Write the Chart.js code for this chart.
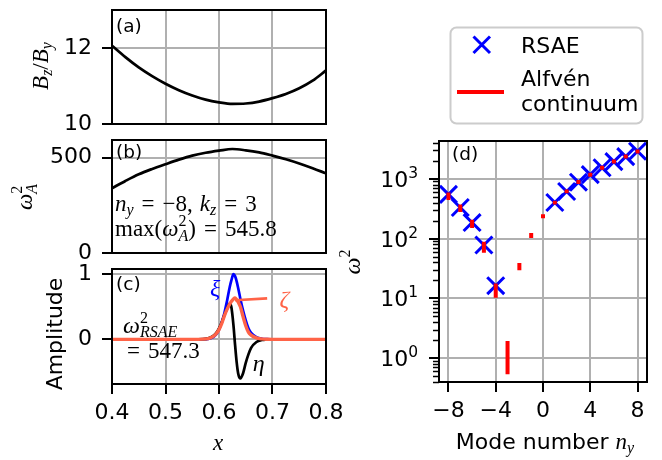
<!DOCTYPE html>
<html>
<head>
<meta charset="utf-8">
<script src="https://cdn.jsdelivr.net/npm/chart.js@4.4.1/dist/chart.umd.min.js"></script>
<style>
html, body { margin: 0; padding: 0; background: #fff; }
#wrap { position: relative; width: 662px; height: 460px; }
#wrap canvas { position: absolute; left: 0; top: 0; }
</style>
</head>
<body>
<div id="wrap">
  <canvas id="ca" width="662" height="460"></canvas>
  <canvas id="cb" width="662" height="460"></canvas>
  <canvas id="cc" width="662" height="460"></canvas>
  <canvas id="cd" width="662" height="460"></canvas>
</div>
<script>
// ---- data ----
const xTicks = [0.4, 0.5, 0.6, 0.7, 0.8];
const xTickLabels = ["0.4", "0.5", "0.6", "0.7", "0.8"];

// (a) field ratio
const xA = [0.40, 0.425, 0.45, 0.475, 0.50, 0.525, 0.55, 0.575, 0.60, 0.625, 0.65, 0.675, 0.70, 0.725, 0.75, 0.775, 0.80];
const bzBy = [12.06, 11.76, 11.49, 11.26, 11.06, 10.89, 10.75, 10.64, 10.57, 10.53, 10.54, 10.59, 10.68, 10.79, 10.94, 11.14, 11.41];
const aTicks = [10, 12];
const aTickLabels = ["10", "12"];

// (b) Alfven frequency for n_y = -8
const omegaA2 = [340, 378, 413, 441, 466, 490, 511, 526, 537, 545.8, 539, 528, 511, 492, 470, 445, 418];
const bTicks = [0, 500];
const bTickLabels = ["0", "500"];

// (c) mode structure
const xC = [0.40, 0.50, 0.55, 0.57, 0.58, 0.59, 0.595, 0.60, 0.605, 0.61, 0.615, 0.62, 0.623, 0.627, 0.63, 0.633, 0.636, 0.64, 0.645, 0.65, 0.655, 0.66, 0.67, 0.68, 0.69, 0.70, 0.75, 0.80];
const xi   = [0, 0, 0, 0.002, 0.008, 0.04, 0.08, 0.15, 0.26, 0.40, 0.59, 0.80, 0.90, 1.00, 0.97, 0.89, 0.78, 0.62, 0.44, 0.29, 0.17, 0.10, 0.035, 0.01, 0.003, 0, 0, 0];
const zeta = [0, 0, 0, 0.004, 0.012, 0.05, 0.09, 0.15, 0.24, 0.36, 0.46, 0.54, 0.58, 0.62, 0.635, 0.61, 0.57, 0.50, 0.35, 0.21, 0.11, 0.065, 0.022, 0.007, 0.002, 0, 0, 0];
const eta  = [0, 0, 0, 0.004, 0.015, 0.06, 0.10, 0.17, 0.26, 0.37, 0.47, 0.55, 0.50, 0.22, -0.08, -0.35, -0.53, -0.60, -0.52, -0.36, -0.23, -0.13, -0.04, -0.01, -0.003, 0, 0, 0];
const cTicks = [0, 1];
const cTickLabels = ["0", "1"];

// (d) spectrum
const nRSAE = [-8, -7, -6, -5, -4, 1, 2, 3, 4, 5, 6, 7, 8];
const w2RSAE = [547.3, 330, 185, 78, 16.3, 400, 612, 875, 1170, 1525, 1930, 2340, 2880];
const nCont = [-8, -7, -6, -5, -4, -3, -2, -1, 0, 1, 2, 3, 4, 5, 6, 7, 8];
const contLow  = [440, 277, 150, 58, 10.2, 0.54, 29.6, 102, 218, 369, 569, 813, 1080, 1413, 1800, 2180, 2630];
const contHigh = [590, 369, 207, 88, 17.8, 1.94, 39, 124, 254, 430, 661, 948, 1259, 1648, 2090, 2540, 3080];
const dXTicks = [-8, -4, 0, 4, 8];
const dXTickLabels = ["\u22128", "\u22124", "0", "4", "8"];
const dYTicks = [1, 10, 100, 1000];
const dYExp = ["0", "1", "2", "3"];

// ---- styling helpers ----
const BLACK = "#000000";
const GRID = "#b0b0b0";
const BLUE = "#0000ff";
const TOMATO = "#ff6347";
const RED = "#ff0000";
const TICK_FONT = { family: "DejaVu Sans", size: 22 };
const it = s => "italic " + s + "px 'Liberation Serif'";
const rm = s => s + "px 'Liberation Serif'";
const sans = s => s + "px 'DejaVu Sans'";

function setTicks(values) {
    return function (scale) { scale.ticks = values.map(v => ({ value: v })); };
}
function noPad(s) { s.paddingTop = 0; s.paddingBottom = 0; s.paddingLeft = 0; s.paddingRight = 0; }

// draw a row of text pieces (dy = sub/superscript shift, stack = same x as previous,
// pad = space on both sides, gap = space before)
function drawRuns(ctx, list, x, y, align) {
    let pos = 0, start = 0, lastW = 0;
    const placed = list.map(r => {
        ctx.font = r.f;
        const w = ctx.measureText(r.t).width;
        const pad = r.pad || 0, gap = r.gap || 0;
        let rx;
        if (r.stack) { rx = start; pos = start + Math.max(lastW, w); }
        else { rx = pos + pad + gap; start = rx; lastW = w; pos += w + 2 * pad + gap; }
        return { r: r, rx: rx };
    });
    const x0 = align === "center" ? x - pos / 2 : x;
    ctx.textAlign = "left";
    ctx.textBaseline = "alphabetic";
    placed.forEach(p => {
        ctx.font = p.r.f;
        ctx.fillStyle = p.r.c || BLACK;
        ctx.fillText(p.r.t, x0 + p.rx, y + (p.r.dy || 0));
    });
}
function drawRotated(ctx, list, x, y) {
    ctx.save();
    ctx.translate(x, y);
    ctx.rotate(-Math.PI / 2);
    drawRuns(ctx, list, 0, 0, "center");
    ctx.restore();
}
function panelTag(ctx, text, x, y) {
    ctx.font = sans(18.5);
    ctx.fillStyle = BLACK;
    ctx.textAlign = "left";
    ctx.textBaseline = "middle";
    ctx.fillText(text, x, y);
}

const frame = {
    id: "frame",
    afterDatasetsDraw(chart) {
        const a = chart.chartArea, c = chart.ctx;
        c.save();
        c.strokeStyle = BLACK;
        c.lineWidth = 2;
        c.strokeRect(a.left, a.top, a.right - a.left, a.bottom - a.top);
        c.restore();
    }
};

function xScale(show, height) {
    return {
        type: "linear", min: 0.4, max: 0.8,
        afterBuildTicks: setTicks(xTicks),
        afterFit: s => { s.height = height; noPad(s); },
        ticks: { display: show, autoSkip: false, maxRotation: 0, padding: 6, color: BLACK, font: TICK_FONT,
                 callback: (v, i) => xTickLabels[i] },
        grid: { color: GRID, lineWidth: 2, drawTicks: show, tickLength: 10, tickColor: BLACK, tickWidth: 2 },
        border: { display: false }
    };
}
function yScale(min, max, ticks, labels) {
    return {
        type: "linear", min: min, max: max,
        afterBuildTicks: setTicks(ticks),
        afterFit: s => { s.width = 112; noPad(s); },
        ticks: { autoSkip: false, padding: 10, color: BLACK, font: TICK_FONT,
                 callback: (v, i) => labels[i] },
        grid: { color: GRID, lineWidth: 2, tickLength: 10, tickColor: BLACK, tickWidth: 2 },
        border: { display: false }
    };
}
function baseOptions(padding, scales) {
    return {
        responsive: false, animation: false, events: [], devicePixelRatio: 1,
        layout: { padding: padding },
        plugins: { legend: { display: false }, tooltip: { enabled: false } },
        scales: scales
    };
}
function curve(xs, ys, color, width) {
    return {
        data: xs.map((x, i) => ({ x: x, y: ys[i] })),
        borderColor: color, borderWidth: width, pointRadius: 0,
        cubicInterpolationMode: "monotone", fill: false
    };
}

// ---- (a) ----
new Chart(document.getElementById("ca"), {
    type: "line",
    data: { datasets: [curve(xA, bzBy, BLACK, 2.7)] },
    options: baseOptions({ left: 0, right: 336, top: 10, bottom: 336 },
        { x: xScale(false, 0), y: yScale(10, 13, aTicks, aTickLabels) }),
    plugins: [frame, {
        id: "textA",
        afterDraw(chart) {
            const c = chart.ctx;
            panelTag(c, "(a)", 116, 27);
            drawRotated(c, [
                { t: "B", f: it(23) }, { t: "z", f: it(16), dy: 4 },
                { t: "/", f: rm(23) },
                { t: "B", f: it(23) }, { t: "y", f: it(16), dy: 4 }
            ], 48, 66);
        }
    }]
});

// ---- (b) ----
new Chart(document.getElementById("cb"), {
    type: "line",
    data: { datasets: [curve(xA, omegaA2, BLACK, 2.7)] },
    options: baseOptions({ left: 0, right: 336, top: 140, bottom: 207 },
        { x: xScale(false, 0), y: yScale(0, 593, bTicks, bTickLabels) }),
    plugins: [frame, {
        id: "textB",
        afterDraw(chart) {
            const c = chart.ctx;
            panelTag(c, "(b)", 116, 153);
            drawRuns(c, [
                { t: "n", f: it(23) }, { t: "y", f: it(16), dy: 4 },
                { t: "=", f: rm(23), pad: 8 },
                { t: "\u22128,", f: rm(23) },
                { t: "k", f: it(23), gap: 7 }, { t: "z", f: it(16), dy: 4 },
                { t: "=", f: rm(23), pad: 8 },
                { t: "3", f: rm(23) }
            ], 115, 211);
            drawRuns(c, [
                { t: "max(", f: rm(23) },
                { t: "\u03c9", f: it(23) },
                { t: "2", f: rm(16), dy: -10 }, { t: "A", f: it(16), dy: 5, stack: true },
                { t: ")", f: rm(23) },
                { t: "=", f: rm(23), pad: 8 },
                { t: "545.8", f: rm(23) }
            ], 115, 236);
            drawRotated(c, [
                { t: "\u03c9", f: it(23) },
                { t: "2", f: rm(16), dy: -10 }, { t: "A", f: it(16), dy: 5, stack: true }
            ], 32, 197);
        }
    }]
});

// ---- (c) ----
new Chart(document.getElementById("cc"), {
    type: "line",
    data: { datasets: [curve(xC, zeta, TOMATO, 3.4), curve(xC, eta, BLACK, 2.7), curve(xC, xi, BLUE, 2.7)] },
    options: baseOptions({ left: 0, right: 336, top: 269, bottom: 0 },
        { x: xScale(true, 76), y: yScale(-0.685, 1.08, cTicks, cTickLabels) }),
    plugins: [frame, {
        id: "textC",
        afterDraw(chart) {
            const c = chart.ctx, sx = chart.scales.x, sy = chart.scales.y;
            panelTag(c, "(c)", 116, 285);
            // pointer from the zeta peak to its label
            c.save();
            c.strokeStyle = TOMATO;
            c.lineWidth = 2.7;
            c.beginPath();
            c.moveTo(sx.getPixelForValue(0.630), sy.getPixelForValue(0.60));
            c.lineTo(sx.getPixelForValue(0.690), sy.getPixelForValue(0.63));
            c.stroke();
            c.restore();
            drawRuns(c, [{ t: "\u03be", f: it(24), c: BLUE }], sx.getPixelForValue(0.583), sy.getPixelForValue(0.66));
            drawRuns(c, [{ t: "\u03b6", f: it(24), c: TOMATO }], sx.getPixelForValue(0.713), sy.getPixelForValue(0.50));
            drawRuns(c, [{ t: "\u03b7", f: it(24), c: BLACK }], sx.getPixelForValue(0.663), sy.getPixelForValue(-0.48));
            drawRuns(c, [
                { t: "\u03c9", f: it(24) },
                { t: "2", f: rm(16), dy: -10 }, { t: "RSAE", f: it(16), dy: 4, stack: true }
            ], 123, 333);
            drawRuns(c, [{ t: "=", f: rm(23) }, { t: "547.3", f: rm(23), gap: 8 }], 127, 358);
            drawRotated(c, [{ t: "Amplitude", f: sans(22) }], 62, 334);
            drawRuns(c, [{ t: "x", f: it(23) }], 213, 450);
        }
    }]
});

// ---- (d) ----
const contPts = [];
nCont.forEach((n, i) => {
    contPts.push({ x: n, y: contLow[i] }, { x: n, y: contHigh[i] }, { x: n, y: null });
});

new Chart(document.getElementById("cd"), {
    type: "line",
    data: {
        datasets: [
            { data: contPts, borderColor: RED, borderWidth: 4, borderCapStyle: "butt", pointRadius: 0, spanGaps: false, fill: false },
            { data: nRSAE.map((n, i) => ({ x: n, y: w2RSAE[i] })), showLine: false,
              pointStyle: "crossRot", pointRadius: 12, pointBorderWidth: 3, pointBorderColor: BLUE, borderColor: BLUE }
        ]
    },
    options: baseOptions({ left: 339, right: 9, top: 141, bottom: 0 }, {
        x: {
            type: "linear", min: -8.8, max: 8.8,
            afterBuildTicks: setTicks(dXTicks),
            afterFit: s => { s.height = 78; noPad(s); },
            ticks: { autoSkip: false, maxRotation: 0, padding: 6, color: BLACK, font: TICK_FONT,
                     callback: (v, i) => dXTickLabels[i] },
            grid: { color: GRID, lineWidth: 2, tickLength: 10, tickColor: BLACK, tickWidth: 2 },
            border: { display: false }
        },
        y: {
            type: "logarithmic", min: 0.4, max: 4270,
            afterBuildTicks: setTicks(dYTicks),
            afterFit: s => { s.width = 100; noPad(s); },
            ticks: { display: false, autoSkip: false },
            grid: { color: GRID, lineWidth: 2, tickLength: 10, tickColor: BLACK, tickWidth: 2 },
            border: { display: false }
        }
    }),
    plugins: [frame, {
        id: "textD",
        afterDraw(chart) {
            const c = chart.ctx, sy = chart.scales.y, a = chart.chartArea;
            // minor log ticks
            c.save();
            c.strokeStyle = BLACK;
            c.lineWidth = 1.5;
            for (let d = 0.1; d < 5000; d *= 10) {
                for (let k = 2; k <= 9; k++) {
                    const v = d * k;
                    if (v < 0.4 || v > 4270) continue;
                    const p = Math.round(sy.getPixelForValue(v)) + 0.5;
                    c.beginPath();
                    c.moveTo(a.left - 6, p);
                    c.lineTo(a.left, p);
                    c.stroke();
                }
            }
            c.restore();
            // y tick labels 10^n
            dYTicks.forEach((v, i) => {
                const p = sy.getPixelForValue(v);
                c.font = sans(22);
                const w1 = c.measureText("10").width;
                c.font = sans(15.5);
                const w2 = c.measureText(dYExp[i]).width;
                const x0 = a.left - 21 - w1 - w2;
                drawRuns(c, [{ t: "10", f: sans(22) }, { t: dYExp[i], f: sans(15.5), dy: -9 }], x0, p + 8);
            });
            panelTag(c, "(d)", 452, 155);
            drawRotated(c, [{ t: "\u03c9", f: it(24) }, { t: "2", f: rm(16), dy: -10 }], 360, 262);
            drawRuns(c, [{ t: "Mode number ", f: sans(22) }, { t: "n", f: it(23) }, { t: "y", f: it(16), dy: 4 }], 545, 449, "center");
            // legend
            const lx = 450.5, ly = 27.5, lw = 192, lh = 96, r = 6;
            c.save();
            c.beginPath();
            c.moveTo(lx + r, ly);
            c.arcTo(lx + lw, ly, lx + lw, ly + lh, r);
            c.arcTo(lx + lw, ly + lh, lx, ly + lh, r);
            c.arcTo(lx, ly + lh, lx, ly, r);
            c.arcTo(lx, ly, lx + lw, ly, r);
            c.closePath();
            c.fillStyle = "rgba(255,255,255,0.8)";
            c.fill();
            c.strokeStyle = "#cccccc";
            c.lineWidth = 2;
            c.stroke();
            c.strokeStyle = BLUE;
            c.lineWidth = 3;
            c.beginPath();
            c.moveTo(473.5, 36.5); c.lineTo(490, 53);
            c.moveTo(490, 36.5); c.lineTo(473.5, 53);
            c.stroke();
            c.strokeStyle = RED;
            c.lineWidth = 4;
            c.beginPath();
            c.moveTo(457, 92); c.lineTo(504, 92);
            c.stroke();
            c.restore();
            drawRuns(c, [{ t: "RSAE", f: sans(22) }], 521, 53);
            drawRuns(c, [{ t: "Alfv\u00e9n", f: sans(22) }], 521, 86);
            drawRuns(c, [{ t: "continuum", f: sans(22) }], 521, 111);
        }
    }]
});
</script>
</body>
</html>
